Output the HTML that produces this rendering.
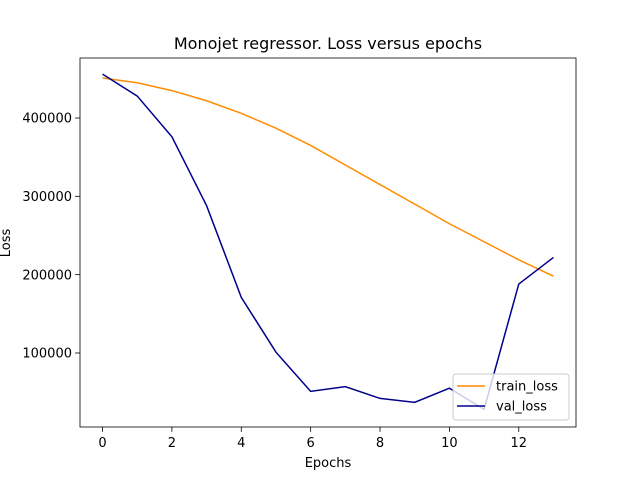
<!DOCTYPE html>
<html><head><meta charset="utf-8"><style>body{margin:0;background:#fff}svg{display:block;font-family:"DejaVu Sans","Liberation Sans",sans-serif}</style></head>
<body>
<svg id="chart" width="640" height="480" xmlns="http://www.w3.org/2000/svg"></svg>
<script>
const epochs=[0,1,2,3,4,5,6,7,8,9,10,11,12,13];
const trainLoss=[451000,445000,435000,422000,406000,387000,365000,340000,315000,290000,265000,242000,219000,198000];
const valLoss=[456000,428000,376000,288000,171000,101000,51000,57000,42000,37000,55000,28000,188000,222000];
const xTicks=[0,2,4,6,8,10,12];
const yTicks=[100000,200000,300000,400000];
const L=80,R=576,T=58,B=427,xMin=-0.65,xMax=13.65,yMin=5500,yMax=476600;
const sx=v=>L+(v-xMin)/(xMax-xMin)*(R-L);
const sy=v=>B-(v-yMin)/(yMax-yMin)*(B-T);
const svg=document.getElementById('chart');const NS='http://www.w3.org/2000/svg';
function mk(t,a,txt){const e=document.createElementNS(NS,t);for(const k in a)e.setAttribute(k,a[k]);if(txt!==undefined)e.textContent=txt;svg.appendChild(e);return e;}
let e;
e=mk('rect',{x:L,y:T,width:R-L,height:B-T,fill:'none',stroke:'#000','stroke-width':0.8});

xTicks.forEach(v=>{mk('line',{x1:sx(v),x2:sx(v),y1:B,y2:B+4.9,stroke:'#000','stroke-width':0.8});
e=mk('text',{x:sx(v),y:B+20,'font-size':13,'text-anchor':'middle'},v);
});
yTicks.forEach(v=>{mk('line',{x1:L-4.9,x2:L,y1:sy(v),y2:sy(v),stroke:'#000','stroke-width':0.8});
e=mk('text',{x:L-8,y:sy(v)+4.7,'font-size':13,'text-anchor':'end'},v);
});
e=mk('text',{x:(L+R)/2,y:49,'font-size':16,'text-anchor':'middle'},'Monojet regressor. Loss versus epochs');

e=mk('text',{x:(L+R)/2,y:467,'font-size':13,'text-anchor':'middle'},'Epochs');

e=mk('text',{x:0,y:0,'font-size':13,'text-anchor':'middle',transform:'translate(10,243) rotate(-90)'},'Loss');

const pts=a=>a.map((v,i)=>sx(epochs[i])+','+sy(v)).join(' ');
e=mk('polyline',{points:pts(trainLoss),fill:'none',stroke:'#ff8c00','stroke-width':1.5});

e=mk('polyline',{points:pts(valLoss),fill:'none',stroke:'#00008b','stroke-width':1.5});

e=mk('rect',{x:453,y:374,width:116,height:46,rx:3,fill:'#fff','fill-opacity':0.8,stroke:'#ccc'});

mk('line',{x1:457,x2:485,y1:386,y2:386,stroke:'#ff8c00','stroke-width':1.5});
e=mk('text',{x:496,y:390.5,'font-size':13},'train_loss');

mk('line',{x1:457,x2:485,y1:406,y2:406,stroke:'#00008b','stroke-width':1.5});
e=mk('text',{x:496,y:410.5,'font-size':13},'val_loss');

</script>
</body></html>
